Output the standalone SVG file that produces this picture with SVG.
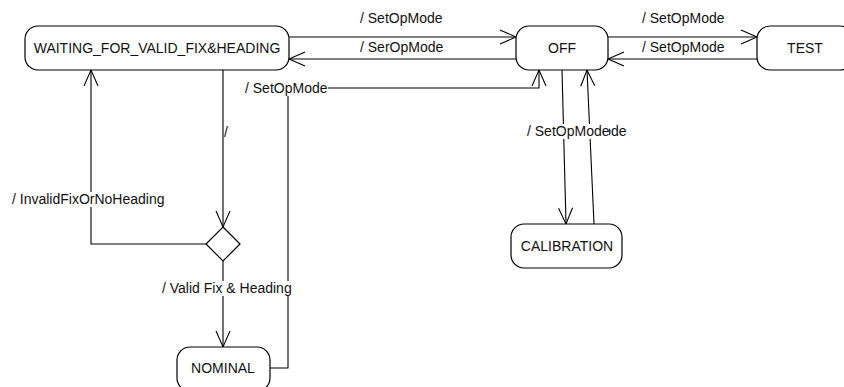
<svg xmlns="http://www.w3.org/2000/svg" width="844" height="387" viewBox="0 0 844 387">
<defs>
<style>
.node{fill:#fff;stroke:#000;stroke-width:1.2}
.edge{fill:none;stroke:#000;stroke-width:1.1}
.t{font-family:"Liberation Sans",Arial,sans-serif;font-size:14px;fill:#111}
.c{text-anchor:middle}
.bg{fill:#fff}
</style>
<marker id="arr" markerUnits="userSpaceOnUse" markerWidth="20" markerHeight="20" viewBox="-18 -9 20 18" refX="0" refY="0" orient="auto">
<path d="M-16,-7 L0,0 L-16,7" fill="none" stroke="#000" stroke-width="1.1"/>
</marker>
</defs>
<rect width="844" height="387" fill="#fff"/>
<g id="connectors">
<path class="edge" d="M289,37 H516" marker-end="url(#arr)"/>
<path class="edge" d="M516,59 H289" marker-end="url(#arr)"/>
<path class="edge" d="M608,37 H757" marker-end="url(#arr)"/>
<path class="edge" d="M757,59 H608" marker-end="url(#arr)"/>
<path class="edge" d="M223,70 V227" marker-end="url(#arr)"/>
<path class="edge" d="M206,244 H91 V70" marker-end="url(#arr)"/>
<path class="edge" d="M223,261 V347" marker-end="url(#arr)"/>
<path class="edge" d="M270,368 H288 V88 H539 V70" marker-end="url(#arr)"/>
<path class="edge" d="M562,70 L566,224" marker-end="url(#arr)"/>
<path class="edge" d="M594,224 L587,70" marker-end="url(#arr)"/>
<g id="labels">
<rect class="bg" x="359" y="11" width="86" height="15"/><text class="t" x="360" y="23">/ SetOpMode</text>
<rect class="bg" x="359" y="40" width="86" height="15"/><text class="t" x="360" y="52">/ SerOpMode</text>
<rect class="bg" x="641" y="11" width="86" height="15"/><text class="t" x="642" y="23">/ SetOpMode</text>
<rect class="bg" x="641" y="40" width="86" height="15"/><text class="t" x="642" y="52">/ SetOpMode</text>
<rect class="bg" x="244" y="81" width="84" height="15"/><text class="t" x="245" y="93">/ SetOpMode</text>
<rect class="bg" x="224" y="125" width="5" height="15"/><text class="t" x="224" y="137">/</text>
<rect class="bg" x="11" y="192" width="153" height="15"/><text class="t" x="12" y="204">/ InvalidFixOrNoHeading</text>
<rect class="bg" x="161" y="281" width="131" height="15"/><text class="t" x="162" y="293">/ Valid Fix &amp; Heading</text>
<rect class="bg" x="543" y="124" width="84" height="15"/><text class="t" x="544" y="136">/ SetOpMode</text>
<rect class="bg" x="526" y="124" width="83" height="15"/><text class="t" x="527" y="136">/ SetOpMode</text>
</g>
</g>
<g id="waiting">
<rect class="node" x="25" y="26" width="264" height="44" rx="13"/>
<text class="t c" x="157" y="53">WAITING_FOR_VALID_FIX&amp;HEADING</text>
</g>
<g id="off">
<rect class="node" x="516" y="26" width="92" height="44" rx="13"/>
<text class="t c" x="562" y="53">OFF</text>
</g>
<g id="test">
<rect class="node" x="757" y="26" width="96" height="44" rx="13"/>
<text class="t c" x="805" y="53">TEST</text>
</g>
<g id="choice">
<path class="node" d="M223,227 L240,244 L223,261 L206,244 Z"/>
</g>
<g id="calibration">
<rect class="node" x="511" y="224" width="111" height="44" rx="13"/>
<text class="t c" x="567" y="251">CALIBRATION</text>
</g>
<g id="nominal">
<rect class="node" x="177" y="347" width="93" height="44" rx="13"/>
<text class="t c" x="223" y="373">NOMINAL</text>
</g>
</svg>
